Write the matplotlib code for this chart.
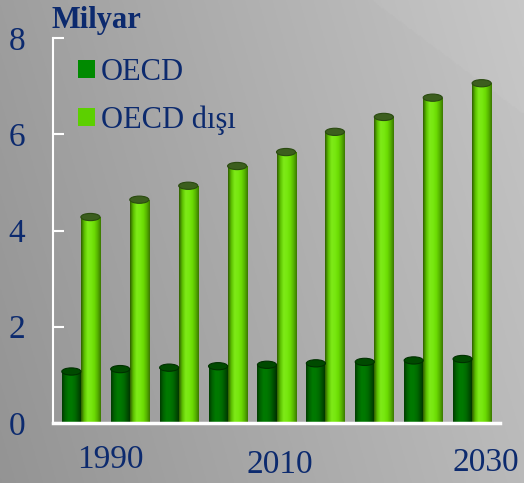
import numpy as np
import matplotlib
matplotlib.use("Agg")
import matplotlib.pyplot as plt
from matplotlib.colors import LinearSegmentedColormap
from matplotlib.patches import Ellipse, Patch

years = [1990, 1995, 2000, 2005, 2010, 2015, 2020, 2025, 2030]
oecd = [1.07, 1.12, 1.15, 1.18, 1.21, 1.24, 1.27, 1.30, 1.33]
non_oecd = [4.28, 4.64, 4.93, 5.34, 5.63, 6.05, 6.36, 6.76, 7.06]
labels_shown = {1990: (29, 37), 2010: (3, 42), 2030: (14, 40)}
series_names = ["OECD", "OECD dışı"]
yticks = [0, 2, 4, 6, 8]

TXT = "#0c2a6e"
plt.rcParams["font.family"] = ["Liberation Serif", "DejaVu Serif"]

fig = plt.figure(figsize=(5.24, 4.83), dpi=100)

# background gradient
bg = fig.add_axes([0, 0, 1, 1], zorder=0)
bg.set_axis_off()
xx, yy = np.meshgrid(np.linspace(0, 1, 300), np.linspace(0, 1, 300))
g = 0.58 + 0.15 * xx + 0.04 * yy
px = xx * 524
py = (1 - yy) * 483
band = py < 5 + 0.75 * (px - 380)
g = g + 0.012 * band
img = np.dstack([g, g, g])
bg.imshow(img, extent=(0, 1, 0, 1), aspect="auto", origin="lower")
bg.set_xlim(0, 1)
bg.set_ylim(0, 1)

ax = fig.add_axes([53 / 524, (483 - 423) / 483, 447 / 524, 385 / 483], zorder=1)
ax.set_facecolor("none")

x = np.arange(len(years))
w = 0.39

cm_dark = LinearSegmentedColormap.from_list(
    "d", ["#003a00", "#006400", "#007a00", "#007800", "#006a00", "#004c00", "#002e00"])
cm_light = LinearSegmentedColormap.from_list(
    "l", ["#2e5a00", "#5cc000", "#7eea18", "#78e810", "#6cdc04", "#56b400", "#3a7600"])

ax.set_xlim(-0.57, len(years) - 1 + 0.57)
ax.set_ylim(0, 8)

grad = np.linspace(0, 1, 256).reshape(1, -1)
cap_h = 0.15

def draw(xs, vals, cmap, capcol, capedge):
    bars = ax.bar(xs, vals, width=w, color="none", edgecolor="none", zorder=2)
    for b, v in zip(bars, vals):
        x0 = b.get_x()
        im = ax.imshow(grad, cmap=cmap, extent=(x0, x0 + w, 0, v),
                       aspect="auto", zorder=2, interpolation="bilinear")
        im.set_clip_path(b)
        ax.add_patch(Ellipse((x0 + w / 2, v), w, cap_h, facecolor=capcol,
                             edgecolor=capedge, lw=0.8, zorder=3))

draw(x - w / 2, oecd, cm_dark, "#004a00", "#003000")
draw(x + w / 2, non_oecd, cm_light, "#3c5e1e", "#2a4a10")

ax.set_xlim(-0.57, len(years) - 1 + 0.57)
ax.set_ylim(0, 8)

for s in ["top", "right"]:
    ax.spines[s].set_visible(False)
ax.spines["left"].set_color("white")
ax.spines["left"].set_linewidth(1.5)
ax.spines["bottom"].set_color("white")
ax.spines["bottom"].set_linewidth(2.5)

ax.set_yticks(yticks)
ax.set_yticklabels([str(t) for t in yticks])
ax.tick_params(axis="y", direction="in", length=8, width=1.5, color="white",
               labelsize=24, labelcolor=TXT, pad=20)
ax.set_xticks([])

for i, yr in enumerate(years):
    if yr in labels_shown:
        dx, dy = labels_shown[yr]
        ax.annotate(str(yr), xy=(i, 0), xycoords=("data", "axes fraction"),
                    xytext=(dx, -dy), textcoords="offset pixels",
                    ha="center", va="center", fontsize=24, color=TXT,
                    annotation_clip=False)

fig.text(52 / 524, 1 - 28 / 483, "Milyar", fontsize=22, fontweight="bold",
         color=TXT, va="baseline", ha="left")

handles = [Patch(facecolor="#008a00", edgecolor="none"),
           Patch(facecolor="#5cd000", edgecolor="none")]
leg = ax.legend(handles, series_names, loc="upper left",
                bbox_to_anchor=(78 / 524, 1 - 58 / 483), bbox_transform=fig.transFigure,
                frameon=False, fontsize=22, handlelength=0.55, handleheight=0.55,
                handletextpad=0.2, labelspacing=0.6, borderpad=0, borderaxespad=0)
for t in leg.get_texts():
    t.set_color(TXT)

fig.savefig("out.png", dpi=100)
